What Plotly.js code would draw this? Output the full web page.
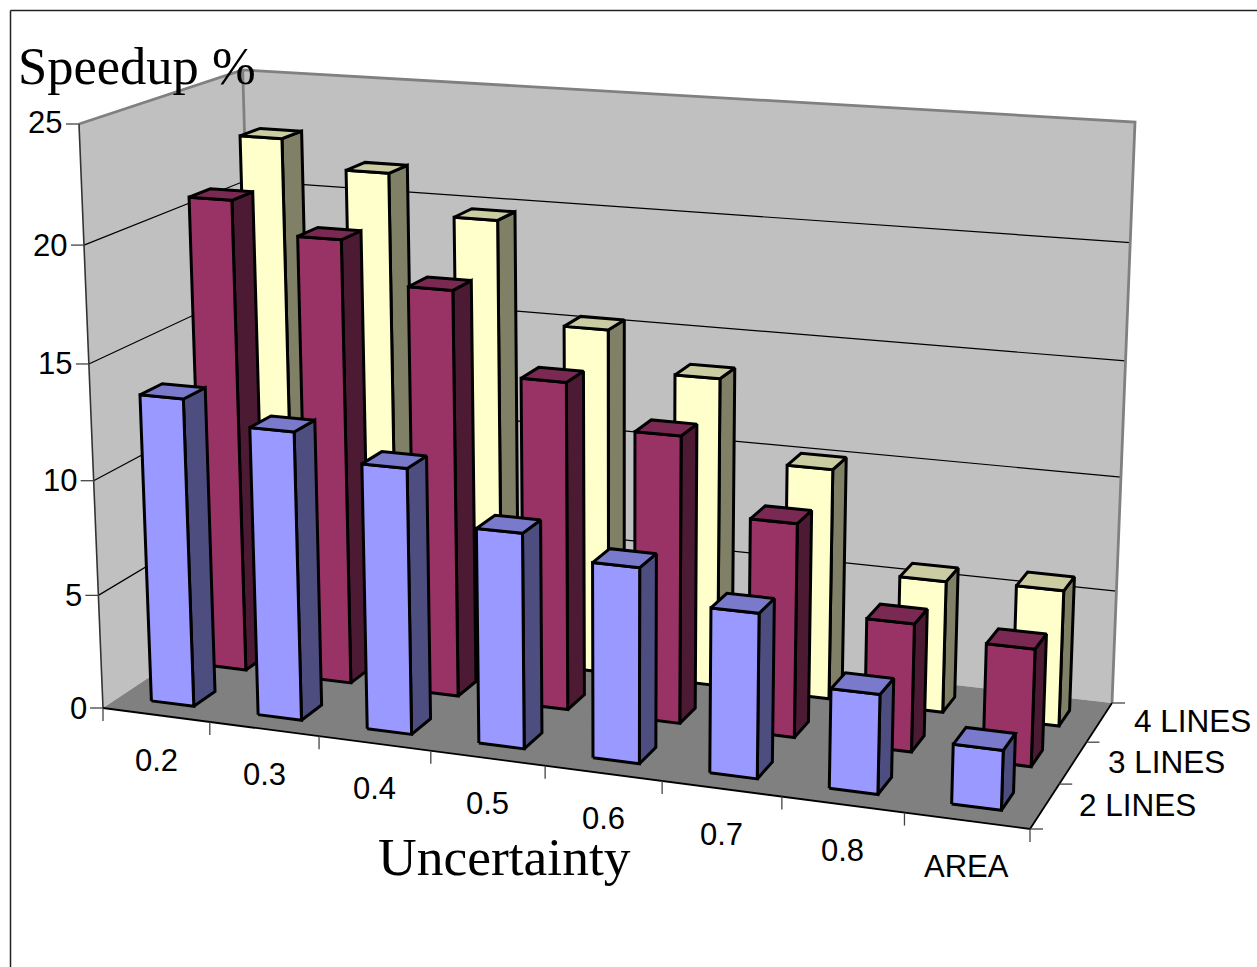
<!DOCTYPE html>
<html><head><meta charset="utf-8">
<script src="https://cdn.plot.ly/plotly-3.0.1.min.js"></script>
<style>html,body{margin:0;padding:0;background:#fff}#c{width:1257px;height:967px}</style></head>
<body><div id="c"></div>
<script>
// ---- data ----
const categories = ['0.2','0.3','0.4','0.5','0.6','0.7','0.8','AREA'];
const seriesNames = ['2 LINES','3 LINES','4 LINES'];
const lines2 = [13.46,12.51,11.44,9.21,8.3,6.95,4.17,2.48];
const lines3 = [20.9,19.56,17.78,14.28,12.45,9.22,5.5,5.0];
const lines4 = [22.7,21.5,19.78,15.38,13.67,10.17,5.78,5.92];
const valueTicks = [0,5,10,15,20,25];
const seriesValues = [lines2,lines3,lines4];
const faceColors = ['#9999FF','#993366','#FFFFCC'];
const sideColors = ['#4D4D80','#4D1A33','#808066'];
const topColors  = ['#7A7ACC','#7A2952','#CCCCA3'];

// ---- perspective camera of the 3-D box, fitted to the wall corners ----
const floorQ = [[103,708],[1030,829],[1112,703],[258,605]];
const topFL = [79,124], topBR = [1135,122];
const cam = (function(q){
  const [x0,y0]=q[0],[x1,y1]=q[1],[x2,y2]=q[2],[x3,y3]=q[3];
  const dx1=x1-x2,dx2=x3-x2,sx=x0-x1+x2-x3,dy1=y1-y2,dy2=y3-y2,sy=y0-y1+y2-y3;
  const den=dx1*dy2-dx2*dy1;
  const g=(sx*dy2-dx2*sy)/den,h=(dx1*sy-sx*dy1)/den;
  const a=x1-x0+g*x1,b=x3-x0+h*x3,d=y1-y0+g*y1,e=y3-y0+h*y3;
  const K=g+h+1;
  const C=(x2*K-x0+topFL[0]-topBR[0]*K)/(topBR[0]-topFL[0]);
  const Ax=topFL[0]*(1+C)-x0, Ay=topFL[1]*(1+C)-y0;
  const yFix=topBR[1]-(y2*K+Ay)/(K+C);
  return {a,b,c:x0,d,e,f:y0,g,h,C,Ax,Ay,yFix};
})(floorQ);
const nC=categories.length,nS=seriesNames.length,vMax=25;
// category position, series position, value -> chart coordinates
function project(c,s,val){
  let u=c/nC; u+=0.022*u*(1-u);
  const v=s/nS,w=val/vMax;
  const k=cam.g*u+cam.h*v+1+cam.C*w;
  return [(cam.a*u+cam.b*v+cam.c+cam.Ax*w)/k,(cam.d*u+cam.e*v+cam.f+cam.Ay*w)/k+cam.yFix*u*w];
}
const traces=[];
function poly(pts,fill,lineColor,lineW,closed){
  const P=closed?pts.concat([pts[0]]):pts;
  traces.push({type:'scatter',mode:lineW?'lines':'none',x:P.map(p=>p[0]),y:P.map(p=>p[1]),
    fill:fill?'toself':'none',fillcolor:fill||undefined,
    line:{color:lineColor||'#000',width:lineW||0},hoverinfo:'skip',showlegend:false});
}
// walls and floor
poly([project(0,0,0),project(0,nS,0),project(0,nS,vMax),project(0,0,vMax)],'#C0C0C0',null,0,true);
poly([project(0,nS,0),project(nC,nS,0),project(nC,nS,vMax),project(0,nS,vMax)],'#C0C0C0',null,0,true);
poly([project(0,0,0),project(nC,0,0),project(nC,nS,0),project(0,nS,0)],'#808080',null,0,true);
// grid lines
valueTicks.filter(v=>v>0&&v<vMax).forEach(v=>poly([project(0,0,v),project(0,nS,v),project(nC,nS,v)],null,'#000',1.2));
// wall edges
poly([project(0,0,vMax),project(0,nS,vMax),project(nC,nS,vMax),project(nC,nS,0)],null,'#808080',2.8);
poly([project(0,nS,vMax),project(0,nS,vMax*0.8)],null,'#808080',2.8);
poly([project(0,0,vMax),project(0,0,0)],null,'#333',1.6);
poly([project(0,0,0),project(nC,0,0),project(nC,nS,0)],null,'#000',1.8);
// tick marks
const tickC='#444';
valueTicks.forEach(v=>{const p=project(0,0,v);poly([[p[0]-13,p[1]],p],null,tickC,1.3);});
for(let i=0;i<=nC;i++){const p=project(i,0,0);poly([p,[p[0],p[1]+13]],null,tickC,1.3);}
for(let j=0;j<=nS;j++){const p=project(nC,j,0);poly([p,[p[0]+13,p[1]]],null,tickC,1.3);}
// bars
const barLo=0.3,barHi=0.7,edge=3;
for(let s=nS-1;s>=0;s--){
  for(let c=0;c<nC;c++){
    const val=seriesValues[s][c];
    const u0=c+barLo,u1=c+barHi,v0=s+barLo,v1=s+barHi;
    poly([project(u1,v0,0),project(u1,v1,0),project(u1,v1,val),project(u1,v0,val)],sideColors[s],'#000',edge,true);
    poly([project(u0,v0,0),project(u1,v0,0),project(u1,v0,val),project(u0,v0,val)],faceColors[s],'#000',edge,true);
    poly([project(u0,v0,val),project(u1,v0,val),project(u1,v1,val),project(u0,v1,val)],topColors[s],'#000',edge,true);
  }
}
// text
const sans='"Liberation Sans", Arial, sans-serif', serif='"Liberation Serif", "Times New Roman", serif';
const ann=[];
function label(t,x,y,xa,size,fam){ann.push({text:t,x,y,xref:'x',yref:'y',showarrow:false,xanchor:xa,yanchor:'middle',
  font:{family:fam,size,color:'#000'},borderpad:0,borderwidth:0});}
valueTicks.forEach(v=>{const p=project(0,0,v);label(String(v),p[0]-16-(0.04*v),p[1]-(v===vMax?2:0),'right',31,sans);});
categories.forEach((t,i)=>{const p=project(i+0.5,0,0);label(t,p[0],p[1]+45.5,'center',31,sans);});
seriesNames.forEach((t,j)=>{const p=project(nC,j+0.5,0);label(t,p[0]+93,p[1]-1,'center',31.5,sans);});
label('Speedup %',137,66,'center',52.5,serif);
label('Uncertainty',504,857,'center',53.5,serif);
// outer frame
const shapes=[{type:'line',xref:'x',yref:'y',x0:10.5,y0:967,x1:10.5,y1:10.5,line:{color:'#222',width:1.5}},
 {type:'line',xref:'x',yref:'y',x0:10.5,y0:10.5,x1:1257,y1:10.5,line:{color:'#222',width:1.5}}];
Plotly.newPlot('c',traces,{width:1257,height:967,margin:{l:0,r:0,t:0,b:0},paper_bgcolor:'#fff',plot_bgcolor:'#fff',
  xaxis:{range:[0,1257],visible:false,fixedrange:true},yaxis:{range:[967,0],visible:false,fixedrange:true},
  annotations:ann,shapes:shapes,showlegend:false},{displayModeBar:false,staticPlot:true});
</script></body></html>
